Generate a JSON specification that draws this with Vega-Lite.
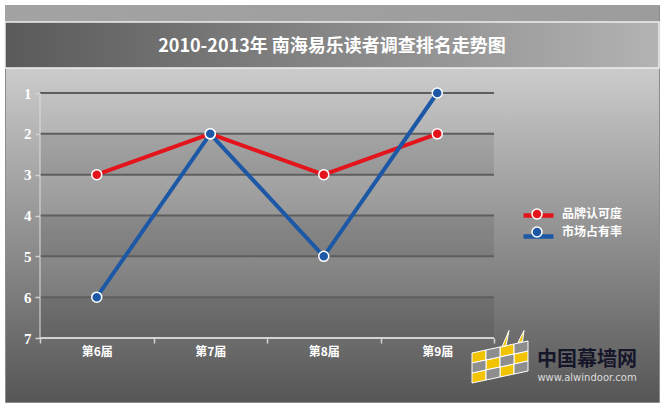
{
  "$schema": "https://vega.github.io/schema/vega-lite/v6.json",
  "width": 654,
  "height": 397,
  "autosize": {"type": "none"},
  "padding": {"left": 5, "top": 5, "right": 5, "bottom": 5},
  "background": "#ffffff",
  "config": {
    "font": "Noto Sans CJK SC",
    "view": {
      "stroke": "#8c8c8c",
      "strokeWidth": 1,
      "fill": {
        "gradient": "linear", "x1": 0, "y1": 0, "x2": 0, "y2": 1,
        "stops": [
          {"offset": 0, "color": "#cbcbcb"},
          {"offset": 0.16, "color": "#cbcbcb"},
          {"offset": 1, "color": "#565656"}
        ]
      }
    }
  },
  "title": {
    "text": "2010-2013年 南海易乐读者调查排名走势图",
    "color": "#ffffff",
    "fontSize": 18,
    "fontWeight": "bold",
    "anchor": "middle",
    "frame": "group",
    "offset": -51
  },
  "datasets": {
    "ranks": [
      {"届": 6, "series": "品牌认可度", "rank": 3},
      {"届": 7, "series": "品牌认可度", "rank": 2},
      {"届": 8, "series": "品牌认可度", "rank": 3},
      {"届": 9, "series": "品牌认可度", "rank": 2},
      {"届": 6, "series": "市场占有率", "rank": 6},
      {"届": 7, "series": "市场占有率", "rank": 2},
      {"届": 8, "series": "市场占有率", "rank": 5},
      {"届": 9, "series": "市场占有率", "rank": 1}
    ],
    "bands": [
      {"from": 2, "to": 3},
      {"from": 4, "to": 5},
      {"from": 6, "to": 7}
    ],
    "grid": [
      {"rank": 1}, {"rank": 2}, {"rank": 3}, {"rank": 4}, {"rank": 5}, {"rank": 6}
    ],
    "mark": [
      {"name": "中国幕墙网", "url": "www.alwindoor.com"}
    ]
  },
  "layer": [
    {
      "data": {"name": "mark"},
      "mark": {
        "type": "rect",
        "fill": {
          "gradient": "linear", "x1": 0, "y1": 0, "x2": 1, "y2": 0,
          "stops": [
            {"offset": 0, "color": "#a3a3a3"},
            {"offset": 1, "color": "#9c9c9c"}
          ]
        }
      },
      "encoding": {
        "x": {"datum": 5.19163, "type": "quantitative"},
        "x2": {"datum": 10.95374},
        "y": {"datum": -1.1551, "type": "quantitative"},
        "y2": {"datum": -0.7388}
      }
    },
    {
      "data": {"name": "mark"},
      "mark": {
        "type": "rect",
        "stroke": "#eeeeee",
        "strokeWidth": 1.5,
        "fill": {
          "gradient": "linear", "x1": 0, "y1": 0, "x2": 1, "y2": 0,
          "stops": [
            {"offset": 0, "color": "#5a5a5a"},
            {"offset": 1, "color": "#b3b3b3"}
          ]
        }
      },
      "encoding": {
        "x": {"datum": 5.19163, "type": "quantitative"},
        "x2": {"datum": 10.95374},
        "y": {"datum": -0.7388, "type": "quantitative"},
        "y2": {"datum": 0.3878}
      }
    },
    {
      "data": {"name": "bands"},
      "mark": {"type": "rect", "fill": "#000000", "fillOpacity": 0.09},
      "encoding": {
        "x": {"datum": 5.5, "type": "quantitative"},
        "x2": {"datum": 9.5},
        "y": {"field": "from", "type": "quantitative"},
        "y2": {"field": "to"}
      }
    },
    {
      "data": {"name": "grid"},
      "mark": {"type": "rule", "stroke": "#5e5e5e", "strokeWidth": 2},
      "encoding": {
        "x": {"datum": 5.5, "type": "quantitative"},
        "x2": {"datum": 9.5},
        "y": {"field": "rank", "type": "quantitative"}
      }
    },
    {
      "data": {"name": "mark"},
      "mark": {"type": "rule", "stroke": "#d2d2d2", "strokeWidth": 2},
      "encoding": {
        "x": {"datum": 5.5, "type": "quantitative"},
        "x2": {"datum": 9.5},
        "y": {"datum": 7, "type": "quantitative"}
      }
    },
    {
      "data": {"name": "mark"},
      "mark": {"type": "rule", "stroke": "#dcdcdc", "strokeWidth": 1.5, "opacity": 0.7},
      "encoding": {
        "x": {"datum": 5.5, "type": "quantitative"},
        "y": {"datum": 1, "type": "quantitative"},
        "y2": {"datum": 7}
      }
    },
    {
      "data": {"name": "ranks"},
      "mark": {"type": "line", "strokeWidth": 4},
      "encoding": {
        "x": {
          "field": "届",
          "type": "quantitative",
          "scale": {"domain": [5.19163, 10.95374], "nice": false, "zero": false},
          "axis": {
            "orient": "bottom",
            "offset": -64,
            "values": [5.5, 6, 6.5, 7, 7.5, 8, 8.5, 9, 9.5],
            "labelExpr": "datum.value % 1 === 0 ? '第' + datum.value + '届' : ''",
            "domain": false,
            "grid": false,
            "tickSize": 5,
            "tickColor": "#d2d2d2",
            "tickWidth": 1.5,
            "tickOpacity": {"condition": {"test": "datum.value % 1 === 0", "value": 0}, "value": 1},
            "labelColor": "#ffffff",
            "labelFontWeight": "bold",
            "labelFontSize": 12,
            "labelPadding": 3,
            "labelOverlap": false,
            "labelFlush": false,
            "title": null
          }
        },
        "y": {
          "field": "rank",
          "type": "quantitative",
          "scale": {"domain": [-1.1551, 8.5673], "reverse": true, "nice": false, "zero": false},
          "axis": {
            "orient": "left",
            "offset": -35,
            "values": [1, 2, 3, 4, 5, 6, 7],
            "domain": false,
            "grid": false,
            "tickSize": 5,
            "tickColor": "#d2d2d2",
            "tickWidth": 1.5,
            "labelColor": "#ffffff",
            "labelFont": "Liberation Sans Narrow",
            "labelFontWeight": "bold",
            "labelFontSize": 15,
            "labelPadding": 4,
            "labelOverlap": false,
            "labelFlush": false,
            "title": null
          }
        },
        "color": {
          "field": "series",
          "type": "nominal",
          "scale": {"domain": ["品牌认可度", "市场占有率"], "range": ["#e3141c", "#1d58a6"]},
          "legend": {
            "orient": "none",
            "legendX": 526,
            "legendY": 203,
            "title": null,
            "padding": 0,
            "symbolType": "M-3,0L3,0",
            "symbolSize": 100,
            "symbolStrokeWidth": 4.5,
            "labelFontSize": 12,
            "labelExpr": "''",
            "labelOffset": 19,
            "rowPadding": 2
          }
        }
      }
    },
    {
      "data": {"name": "ranks"},
      "mark": {"type": "point", "filled": true, "size": 100, "stroke": "#ffffff", "strokeWidth": 1.5, "opacity": 1},
      "encoding": {
        "x": {"field": "届", "type": "quantitative"},
        "y": {"field": "rank", "type": "quantitative"},
        "fill": {
          "field": "series",
          "type": "nominal",
          "scale": {"range": ["#e3141c", "#1d58a6"]},
          "legend": {
            "orient": "none",
            "legendX": 526,
            "legendY": 203,
            "title": null,
            "padding": 0,
            "zindex": 1,
            "symbolType": "circle",
            "symbolSize": 100,
            "symbolStrokeColor": "#ffffff",
            "symbolStrokeWidth": 1.5,
            "symbolOpacity": 1,
            "labelFontSize": 12,
            "labelFontWeight": "bold",
            "labelColor": "#ffffff",
            "labelOffset": 19,
            "rowPadding": 2
          }
        }
      }
    },
    {
      "data": {"name": "mark"},
      "mark": {
        "type": "point",
        "filled": true,
        "size": 3600,
        "fill": "#f2c400",
        "stroke": "#ffffff",
        "strokeWidth": 1,
        "opacity": 1,
        "shape": "M-0.933,0.8L-0.467,0.7L-0.467,0.367L-0.933,0.467ZM-0.933,0.133L-0.467,0.033L-0.467,-0.3L-0.933,-0.2ZM-0.467,0.367L0,0.267L0,-0.067L-0.467,0.033ZM0,0.6L0.467,0.5L0.467,0.167L0,0.267ZM0,-0.067L0.467,-0.167L0.467,-0.5L0,-0.4ZM0.467,0.167L0.933,0.067L0.933,-0.267L0.467,-0.167ZM0.067,-0.4L0.3,-0.95L0.2,-0.43ZM0.6,-0.55L0.8,-0.95L0.75,-0.58Z"
      },
      "encoding": {
        "x": {"datum": 9.5529, "type": "quantitative"},
        "y": {"datum": 7.5143, "type": "quantitative"}
      }
    },
    {
      "data": {"name": "mark"},
      "mark": {
        "type": "point",
        "filled": true,
        "size": 3600,
        "fill": "#8e8e8e",
        "stroke": "#ffffff",
        "strokeWidth": 1,
        "opacity": 1,
        "shape": "M-0.933,0.467L-0.467,0.367L-0.467,0.033L-0.933,0.133ZM-0.467,0.7L0,0.6L0,0.267L-0.467,0.367ZM-0.467,0.033L0,-0.067L0,-0.4L-0.467,-0.3ZM0,0.267L0.467,0.167L0.467,-0.167L0,-0.067ZM0.467,0.5L0.933,0.4L0.933,0.067L0.467,0.167ZM0.467,-0.167L0.933,-0.267L0.933,-0.6L0.467,-0.5Z"
      },
      "encoding": {
        "x": {"datum": 9.5529, "type": "quantitative"},
        "y": {"datum": 7.5143, "type": "quantitative"}
      }
    },
    {
      "data": {"name": "mark"},
      "mark": {"type": "text", "fontSize": 20, "fontWeight": "bold", "fill": "#16162a"},
      "encoding": {
        "x": {"datum": 10.32, "type": "quantitative"},
        "y": {"datum": 7.54, "type": "quantitative"},
        "text": {"field": "name"}
      }
    },
    {
      "data": {"name": "mark"},
      "mark": {"type": "text", "font": "DejaVu Sans", "fontSize": 10, "fill": "#dcdcdc"},
      "encoding": {
        "x": {"datum": 10.32, "type": "quantitative"},
        "y": {"datum": 7.99, "type": "quantitative"},
        "text": {"field": "url"}
      }
    }
  ]
}
